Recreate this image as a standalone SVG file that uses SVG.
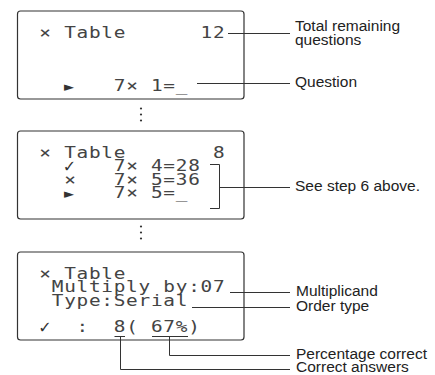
<svg xmlns="http://www.w3.org/2000/svg" width="435" height="375" viewBox="0 0 435 375">
  <style>
    .screen { fill: #fff; stroke: #333; stroke-width: 1.2; }
    .lcd { font-family: "DejaVu Sans Mono", "Liberation Mono", monospace; font-size: 15.5px; letter-spacing: 0.59px; fill: #444; }
    .sym { font-family: "DejaVu Sans", sans-serif; font-size: 13px; fill: #333; text-anchor: middle; }
    .chk { font-size: 16px; font-weight: bold; }
    .label { font-family: "Liberation Sans", Arial, sans-serif; font-size: 15.5px; fill: #222; }
    .lead { fill: none; stroke: #333; stroke-width: 1; }
    .dot { fill: #333; }
  </style>

  <!-- LCD character cells are 12.4px wide; the glyph groups are stretched 1.25x horizontally,
       so x values inside them are given in the unstretched space. -->

  <!-- Screen 1: first question -->
  <g id="screen-start">
    <rect class="screen" x="17.5" y="11" width="226.5" height="88" rx="3"/>
    <g transform="scale(1.25 1)">
      <text class="lcd" x="31.5" y="38">×</text>
      <text class="lcd" x="51.34" y="38">Table</text>
      <text class="lcd" x="160.46" y="38">12</text>
      <text class="lcd" x="91.02" y="91">7×</text>
      <text class="lcd" x="120.78" y="91">1=_</text>
    </g>
    <text class="sym" x="69" y="91">►</text>
  </g>

  <g id="ellipsis-1">
    <circle class="dot" cx="141" cy="108.5" r="1.1"/>
    <circle class="dot" cx="141" cy="114.5" r="1.1"/>
    <circle class="dot" cx="141" cy="120.5" r="1.1"/>
  </g>

  <!-- Screen 2: questions in progress -->
  <g id="screen-progress">
    <rect class="screen" x="17.5" y="131" width="226.5" height="88" rx="3"/>
    <g transform="scale(1.25 1)">
      <text class="lcd" x="31.5" y="158">×</text>
      <text class="lcd" x="51.34" y="158">Table</text>
      <text class="lcd" x="170.38" y="158">8</text>
      <text class="lcd" x="91.02" y="171.3">7×</text>
      <text class="lcd" x="120.78" y="171.3">4=28</text>
      <text class="lcd" x="51.34" y="184.6">×</text>
      <text class="lcd" x="91.02" y="184.6">7×</text>
      <text class="lcd" x="120.78" y="184.6">5=36</text>
      <text class="lcd" x="91.02" y="197.9">7×</text>
      <text class="lcd" x="120.78" y="197.9">5=_</text>
    </g>
    <text class="sym chk" x="69.5" y="172">✓</text>
    <text class="sym" x="69" y="197.9">►</text>
  </g>

  <g id="ellipsis-2">
    <circle class="dot" cx="141" cy="226.5" r="1.1"/>
    <circle class="dot" cx="141" cy="232.5" r="1.1"/>
    <circle class="dot" cx="141" cy="238.5" r="1.1"/>
  </g>

  <!-- Screen 3: results -->
  <g id="screen-result">
    <rect class="screen" x="17.5" y="252" width="226.5" height="88" rx="3"/>
    <g transform="scale(1.25 1)">
      <text class="lcd" x="31.5" y="279">×</text>
      <text class="lcd" x="51.34" y="279">Table</text>
      <text class="lcd" x="41.42" y="292.3">Multiply</text>
      <text class="lcd" x="130.7" y="292.3">by:07</text>
      <text class="lcd" x="41.42" y="305.6">Type:Serial</text>
      <text class="lcd" x="61.26" y="332">:</text>
      <text class="lcd" x="91.02" y="332">8(</text>
      <text class="lcd" x="120.78" y="332">67%)</text>
    </g>
    <text class="sym chk" x="45" y="332.5">✓</text>
  </g>

  <!-- Callout labels -->
  <g id="label-remaining">
    <text class="label" x="295" y="31">Total remaining</text>
    <text class="label" x="295" y="45">questions</text>
  </g>
  <g id="label-question"><text class="label" x="295" y="87">Question</text></g>
  <g id="label-step"><text class="label" x="295" y="191">See step 6 above.</text></g>
  <g id="label-multiplicand"><text class="label" x="296" y="296">Multiplicand</text></g>
  <g id="label-order"><text class="label" x="296" y="311">Order type</text></g>
  <g id="label-percentage"><text class="label" x="296" y="359">Percentage correct</text></g>
  <g id="label-correct"><text class="label" x="296" y="372">Correct answers</text></g>

  <!-- Leader lines -->
  <g id="connectors">
    <path class="lead" d="M228 33.5H290"/>
    <path class="lead" d="M197 83.5H290"/>
    <path class="lead" d="M210 164.5H219.5V208.5H210M219.5 187.5H290"/>
    <path class="lead" d="M230 292.5H290"/>
    <path class="lead" d="M192 307.5H290"/>
    <path class="lead" d="M114.5 336.5H125M120.5 336.5V369.5H290"/>
    <path class="lead" d="M152 336.5H188M169.5 336.5V355.5H290"/>
  </g>
</svg>
